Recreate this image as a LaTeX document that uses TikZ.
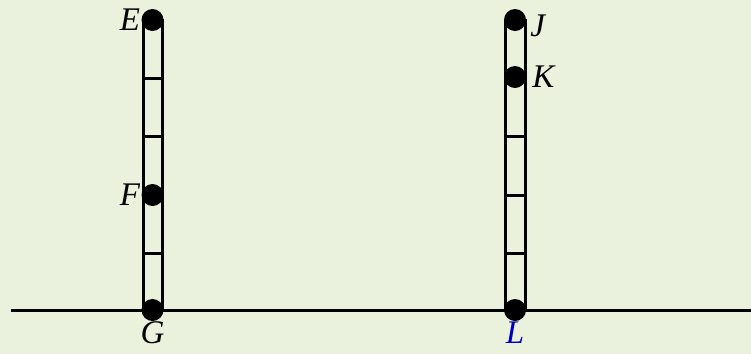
\documentclass[tikz,border=0pt]{standalone}
\usepackage{tikz}
\usetikzlibrary{positioning,calc}
\usepackage{xcolor}
\usepackage{fontspec}
\setmainfont{Liberation Serif}
\definecolor{paper}{RGB}{234,241,221}
\definecolor{lblue}{RGB}{0,0,190}

\begin{document}
\begin{tikzpicture}[x=1pt,y=-1pt,
    pole/.style={draw=black, line width=3pt},
    rung/.style={black, line width=3pt},
    pt/.style={circle, fill=black, inner sep=0pt, minimum size=22pt},
    lbl/.style={font=\fontsize{33}{40}\selectfont\itshape, inner sep=2pt}
]

% background and frame
\fill[paper] (0,0) rectangle (751,354);
\useasboundingbox (0,0) rectangle (751,354);

% ground line
\coordinate (gl) at (11,310);
\coordinate (gr) at (751,310);
\draw[rung] (gl) -- (gr);

% left pole with rungs
\draw[pole] (143,20) rectangle (162,310);
\foreach \y in {78,136,253}
    \draw[rung] (143,\y) -- (162,\y);

% right pole with rungs
\draw[pole] (505,20) rectangle (525,310);
\foreach \y in {136,195,253}
    \draw[rung] (505,\y) -- (525,\y);

% points on the poles
\node[pt] (E) at (152.5,20) {};
\node[pt] (F) at (152.5,195) {};
\node[pt] (G) at (152.5,310) {};
\node[pt] (J) at (515,20) {};
\node[pt] (K) at (515,77) {};
\node[pt] (L) at (515,310) {};

% labels
\node[lbl, left=-1pt of E] {E};
\node[lbl, left=-1pt of F] {F};
\node[lbl, below=-2pt of G] {G};
\node[lbl, right=2pt of J, yshift=-6pt] {J};
\node[lbl, right=4pt of K] {K};
\node[lbl, below=-2pt of L, text=lblue] {L};

\end{tikzpicture}
\end{document}
